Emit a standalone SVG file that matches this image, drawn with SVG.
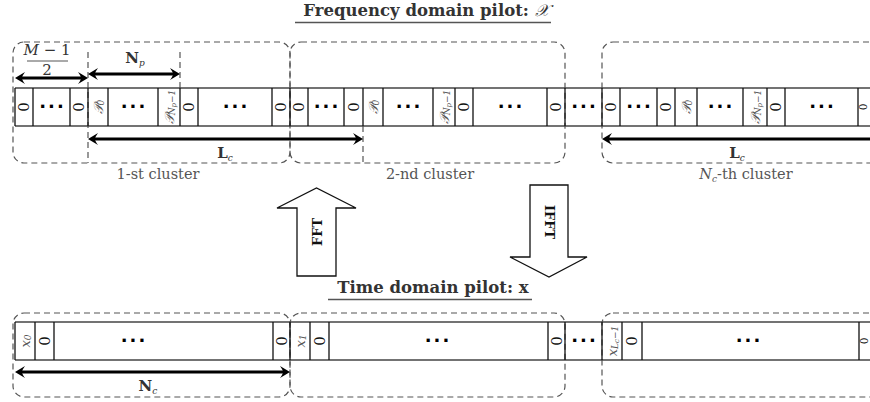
<svg xmlns="http://www.w3.org/2000/svg" width="870" height="402" viewBox="0 0 870 402">
  <style>
    .bg { fill: #ffffff; }
    .cluster { fill: none; stroke: #555; stroke-width: 1.2; stroke-dasharray: 6 4; }
    .guide { fill: none; stroke: #555; stroke-width: 1.2; stroke-dasharray: 6 4; }
    .rail { fill: none; stroke: #444; stroke-width: 1.3; }
    .cell { fill: none; stroke: #111; stroke-width: 1.3; }
    .dim { fill: none; stroke: #000; stroke-width: 3.2; }
    .block { fill: #fff; stroke: #111; stroke-width: 1.3; }
    .zero { font-family: "DejaVu Serif", serif; font-size: 15px; fill: #111; text-anchor: middle; dominant-baseline: central; }
    .zero-edge { font-family: "DejaVu Serif", serif; font-size: 10.5px; fill: #111; text-anchor: middle; dominant-baseline: central; }
    .dots { font-family: "DejaVu Sans", sans-serif; font-weight: bold; font-size: 18px; fill: #000; text-anchor: middle; dominant-baseline: central; letter-spacing: 2px; }
    .sym { font-family: "DejaVu Serif", serif; font-style: italic; font-size: 13px; fill: #555; text-anchor: middle; dominant-baseline: central; }
    .sub { font-size: 9px; }
    .lbl { font-family: "DejaVu Serif", serif; font-size: 15px; fill: #333; text-anchor: middle; }
    .bold { font-weight: bold; }
    .title { font-family: "DejaVu Serif", serif; font-weight: bold; font-size: 16.5px; fill: #333; text-anchor: middle; }
    .uline { stroke: #555; stroke-width: 1.4; }
    .cap { font-family: "DejaVu Serif", serif; font-size: 14.5px; fill: #555; text-anchor: middle; }
    .op { font-family: "DejaVu Serif", serif; font-weight: bold; font-size: 13px; fill: #111; text-anchor: middle; dominant-baseline: central; }
  </style>
  <defs>
    <marker id="head" viewBox="-8 -7 14 14" refX="0" refY="0" markerWidth="14" markerHeight="14" markerUnits="userSpaceOnUse" orient="auto-start-reverse">
      <path d="M4,0 L-6,-6 Q-3,-2 -3,0 Q-3,2 -6,6 Z" fill="#000"/>
    </marker>
  </defs>

  <rect class="bg" x="0" y="0" width="870" height="402"/>

  <!-- titles -->
  <g id="title-freq">
    <text class="title" x="426" y="16">Frequency domain pilot: <tspan font-family="DejaVu Sans, serif" font-weight="normal" font-style="italic">𝒳</tspan></text>
    <line class="uline" x1="295" y1="22.5" x2="551" y2="22.5"/>
  </g>
  <g id="title-time">
    <text class="title" x="433" y="293">Time domain pilot: x</text>
    <line class="uline" x1="328" y1="299.5" x2="532" y2="299.5"/>
  </g>

  <!-- frequency-domain clusters -->
  <g id="freq-cluster-1">
    <rect class="cluster" x="13" y="42" width="277" height="121" rx="11"/>
    <line class="guide" x1="88" y1="52" x2="88" y2="163"/>
    <line class="guide" x1="180" y1="52" x2="180" y2="88"/>
    <text class="cap" x="158" y="179">1-st cluster</text>
  </g>
  <g id="freq-cluster-2">
    <rect class="cluster" x="290" y="42" width="275" height="121" rx="11"/>
    <line class="guide" x1="363" y1="126" x2="363" y2="163"/>
    <text class="cap" x="430" y="179">2-nd cluster</text>
  </g>
  <g id="freq-cluster-nc">
    <rect class="cluster" x="602" y="42" width="290" height="121" rx="11"/>
    <text class="cap" x="746" y="179"><tspan font-style="italic">N</tspan><tspan class="sub" font-style="italic" dy="3">c</tspan><tspan dy="-3">-th cluster</tspan></text>
  </g>

  <!-- frequency-domain subcarrier strip -->
  <g id="freq-strip">
    <line class="rail" x1="15" y1="88" x2="870" y2="88"/>
    <line class="rail" x1="15" y1="126" x2="870" y2="126"/>
    <path class="cell" d="M15,88V126 M33,88V126 M70,88V126 M88,88V126 M108,88V126 M158,88V126 M180,88V126 M198,88V126 M272,88V126 M290,88V126
                          M308,88V126 M344,88V126 M363,88V126 M383,88V126 M433,88V126 M455,88V126 M473,88V126 M547,88V126 M565,88V126
                          M602,88V126 M620,88V126 M657,88V126 M675,88V126 M697,88V126 M743,88V126 M767,88V126 M785,88V126 M858,88V126"/>
    <!-- cluster 1 -->
    <text class="zero" transform="translate(24,107) rotate(-90)">0</text>
    <text class="dots" x="52.5" y="106">···</text>
    <text class="zero" transform="translate(79,107) rotate(-90)">0</text>
    <text class="sym" transform="translate(98,107) rotate(-90)">𝒫<tspan class="sub" dy="3">0</tspan></text>
    <text class="dots" x="134" y="106">···</text>
    <text class="sym" transform="translate(169,107) rotate(-90)">𝒫<tspan class="sub" dy="3">N<tspan font-size="7px" dy="2">p</tspan><tspan dy="-2">−1</tspan></tspan></text>
    <text class="zero" transform="translate(189,107) rotate(-90)">0</text>
    <text class="dots" x="236" y="106">···</text>
    <text class="zero" transform="translate(281,107) rotate(-90)">0</text>
    <!-- cluster 2 -->
    <text class="zero" transform="translate(299,107) rotate(-90)">0</text>
    <text class="dots" x="327" y="106">···</text>
    <text class="zero" transform="translate(353.5,107) rotate(-90)">0</text>
    <text class="sym" transform="translate(373,107) rotate(-90)">𝒫<tspan class="sub" dy="3">0</tspan></text>
    <text class="dots" x="409" y="106">···</text>
    <text class="sym" transform="translate(444,107) rotate(-90)">𝒫<tspan class="sub" dy="3">N<tspan font-size="7px" dy="2">p</tspan><tspan dy="-2">−1</tspan></tspan></text>
    <text class="zero" transform="translate(464,107) rotate(-90)">0</text>
    <text class="dots" x="511" y="106">···</text>
    <text class="zero" transform="translate(556,107) rotate(-90)">0</text>
    <!-- gap between clusters -->
    <text class="dots" x="584.5" y="106">···</text>
    <!-- cluster Nc -->
    <text class="zero" transform="translate(611,107) rotate(-90)">0</text>
    <text class="dots" x="639.5" y="106">···</text>
    <text class="zero" transform="translate(666,107) rotate(-90)">0</text>
    <text class="sym" transform="translate(686,107) rotate(-90)">𝒫<tspan class="sub" dy="3">0</tspan></text>
    <text class="dots" x="721" y="106">···</text>
    <text class="sym" transform="translate(755,107) rotate(-90)">𝒫<tspan class="sub" dy="3">N<tspan font-size="7px" dy="2">p</tspan><tspan dy="-2">−1</tspan></tspan></text>
    <text class="zero" transform="translate(776,107) rotate(-90)">0</text>
    <text class="dots" x="822.5" y="106">···</text>
    <text class="zero-edge" transform="translate(863,107) rotate(-90)">0</text>
  </g>

  <!-- time-domain clusters -->
  <g id="time-cluster-1">
    <rect class="cluster" x="13" y="313" width="277" height="84" rx="11"/>
  </g>
  <g id="time-cluster-2">
    <rect class="cluster" x="290" y="313" width="275" height="84" rx="11"/>
  </g>
  <g id="time-cluster-nc">
    <rect class="cluster" x="602" y="313" width="290" height="84" rx="11"/>
  </g>

  <!-- time-domain sample strip -->
  <g id="time-strip">
    <line class="rail" x1="15" y1="322" x2="870" y2="322"/>
    <line class="rail" x1="15" y1="360" x2="870" y2="360"/>
    <path class="cell" d="M15,322V360 M35,322V360 M54,322V360 M273,322V360 M290,322V360
                          M310,322V360 M329,322V360 M548,322V360 M565,322V360
                          M602,322V360 M622,322V360 M642,322V360 M859,322V360"/>
    <text class="sym" transform="translate(25,341) rotate(-90)">x<tspan class="sub" dy="3">0</tspan></text>
    <text class="zero" transform="translate(44.5,341) rotate(-90)">0</text>
    <text class="dots" x="134" y="340">···</text>
    <text class="zero" transform="translate(281.5,341) rotate(-90)">0</text>
    <text class="sym" transform="translate(300,341) rotate(-90)">x<tspan class="sub" dy="3">1</tspan></text>
    <text class="zero" transform="translate(319.5,341) rotate(-90)">0</text>
    <text class="dots" x="438" y="340">···</text>
    <text class="zero" transform="translate(556.5,341) rotate(-90)">0</text>
    <text class="dots" x="584.5" y="340">···</text>
    <text class="sym" transform="translate(612,341) rotate(-90)">x<tspan class="sub" dy="3">L<tspan font-size="7px" dy="2">c</tspan><tspan dy="-2">−1</tspan></tspan></text>
    <text class="zero" transform="translate(632,341) rotate(-90)">0</text>
    <text class="dots" x="749" y="340">···</text>
    <text class="zero-edge" transform="translate(864,341) rotate(-90)">0</text>
  </g>

  <!-- transform blocks -->
  <g id="fft">
    <polygon class="block" points="297,276 297,208 277,208 316.5,188 356,208 336,208 336,276"/>
    <text class="op" transform="translate(317,232) rotate(-90)">FFT</text>
  </g>
  <g id="ifft">
    <polygon class="block" points="530,185 568,185 568,257 587,257 549,277 510,257 530,257"/>
    <text class="op" transform="translate(549,222) rotate(90)">IFFT</text>
  </g>

  <!-- dimension arrows -->
  <g id="connectors">
    <line class="dim" x1="19" y1="78" x2="84" y2="78" marker-start="url(#head)" marker-end="url(#head)"/>
    <line class="dim" x1="92" y1="74" x2="176" y2="74" marker-start="url(#head)" marker-end="url(#head)"/>
    <line class="dim" x1="92" y1="139" x2="359" y2="139" marker-start="url(#head)" marker-end="url(#head)"/>
    <line class="dim" x1="606" y1="139" x2="872" y2="139" marker-start="url(#head)"/>
    <line class="dim" x1="19" y1="372" x2="286" y2="372" marker-start="url(#head)" marker-end="url(#head)"/>
  </g>

  <!-- dimension labels -->
  <g id="dim-labels">
    <text class="lbl" x="47" y="55" font-style="italic" fill="#555">M <tspan font-style="normal">− 1</tspan></text>
    <line x1="27" y1="61" x2="68" y2="61" stroke="#555" stroke-width="1"/>
    <text class="lbl" x="47" y="75" fill="#555">2</text>
    <text class="lbl bold" x="135" y="63">N<tspan class="sub" font-style="italic" font-weight="normal" dy="3">p</tspan></text>
    <text class="lbl bold" x="225" y="158">L<tspan class="sub" font-style="italic" font-weight="normal" dy="3">c</tspan></text>
    <text class="lbl bold" x="737" y="158">L<tspan class="sub" font-style="italic" font-weight="normal" dy="3">c</tspan></text>
    <text class="lbl bold" x="148" y="391">N<tspan class="sub" font-style="italic" font-weight="normal" dy="3">c</tspan></text>
  </g>
</svg>
